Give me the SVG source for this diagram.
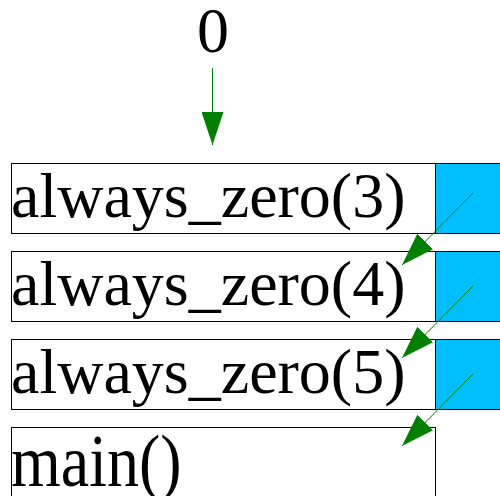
<svg xmlns="http://www.w3.org/2000/svg" width="500" height="496" viewBox="0 0 500 496">
  <style>
    .frame { fill: #ffffff; stroke: #000000; stroke-width: 1; }
    .cell { fill: #00bfff; stroke: #000000; stroke-width: 1; }
    .label { font-family: "Liberation Serif", "Times New Roman", serif; font-size: 64px; fill: #000000; }
    .link { stroke: #008000; stroke-width: 1; fill: none; marker-end: url(#head); }
  </style>
  <defs>
    <marker id="head" markerUnits="userSpaceOnUse" markerWidth="34" markerHeight="22" refX="33" refY="11" orient="auto">
      <path d="M0,0 L33,11 L0,22 Z" fill="#008000"/>
    </marker>
  </defs>

  <rect width="500" height="496" fill="#ffffff"/>

  <g id="value">
    <text class="label" x="213" y="52" text-anchor="middle">0</text>
  </g>

  <g id="frame-3">
    <rect class="frame" x="11.5" y="163.5" width="424" height="70"/>
    <rect class="cell" x="435.5" y="163.5" width="70" height="70"/>
    <text class="label" x="11" y="217">always_zero(3)</text>
  </g>

  <g id="frame-4">
    <rect class="frame" x="11.5" y="251.5" width="424" height="70"/>
    <rect class="cell" x="435.5" y="251.5" width="70" height="70"/>
    <text class="label" x="11" y="305">always_zero(4)</text>
  </g>

  <g id="frame-5">
    <rect class="frame" x="11.5" y="339.5" width="424" height="70"/>
    <rect class="cell" x="435.5" y="339.5" width="70" height="70"/>
    <text class="label" x="11" y="393">always_zero(5)</text>
  </g>

  <g id="frame-main">
    <rect class="frame" x="11.5" y="427.5" width="424" height="80"/>
    <text class="label" transform="translate(11,486) scale(1,1.14)" x="0" y="0">main()</text>
  </g>

  <g id="connectors">
    <line class="link" x1="212.5" y1="68" x2="212.5" y2="145"/>
    <line class="link" x1="473" y1="193" x2="402" y2="265"/>
    <line class="link" x1="473" y1="286" x2="402" y2="358"/>
    <line class="link" x1="473" y1="374" x2="402" y2="446"/>
  </g>
</svg>
